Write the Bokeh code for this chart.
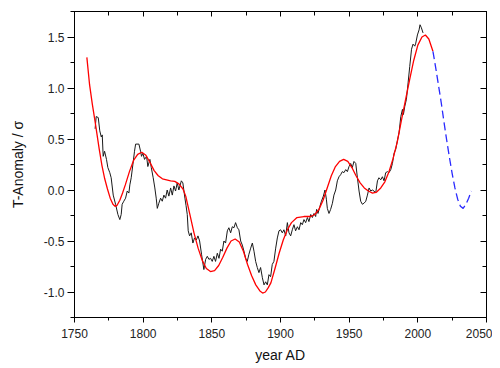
from bokeh.plotting import figure
from bokeh.models import Range1d, LinearAxis, SingleIntervalTicker, NumeralTickFormatter
from bokeh.embed import file_html
from bokeh.resources import INLINE

# ---- data ----
black_years = [1765.0, 1765.8, 1767.3, 1768.4, 1769.5, 1770.2, 1770.9, 1771.9, 1773.3, 1774.3,
               1775.7, 1776.7, 1778.2, 1779.9, 1781.6, 1783.0, 1784.0, 1784.7, 1785.9, 1787.2,
               1788.4, 1789.6, 1790.3, 1791.3, 1792.8, 1793.7, 1794.5, 1796.9, 1798.1, 1798.8,
               1799.8, 1801.0, 1802.5, 1803.4, 1804.9, 1805.9, 1807.3, 1808.5, 1809.5, 1810.3,
               1811.4, 1812.7, 1813.9, 1815.1, 1816.3, 1817.5, 1818.7, 1820.0, 1821.2, 1822.4,
               1823.6, 1824.8, 1826.0, 1827.8, 1828.9, 1830.4, 1831.2, 1832.1, 1832.8, 1833.8,
               1835.0, 1836.2, 1837.4, 1838.7, 1839.9, 1841.1, 1842.5, 1844.2, 1845.5, 1846.7,
               1847.9, 1849.1, 1850.3, 1851.5, 1852.7, 1854.0, 1855.2, 1856.4, 1857.6, 1858.8,
               1860.0, 1861.3, 1862.4, 1863.7, 1864.9, 1866.1, 1867.3, 1868.6, 1869.7, 1871.0,
               1872.2, 1873.4, 1874.6, 1875.8, 1877.0, 1878.3, 1879.5, 1880.7, 1881.9, 1883.1,
               1884.3, 1885.5, 1886.8, 1888.0, 1889.2, 1890.4, 1891.6, 1892.8, 1894.0, 1895.2,
               1896.5, 1897.7, 1898.9, 1900.1, 1901.3, 1902.5, 1903.8, 1905.0, 1906.2, 1907.4,
               1908.6, 1909.8, 1911.0, 1912.3, 1913.5, 1914.7, 1915.9, 1917.1, 1918.3, 1919.6,
               1920.7, 1922.0, 1923.2, 1924.4, 1925.6, 1926.3, 1927.3, 1928.7, 1929.8, 1931.2,
               1932.4, 1933.4, 1934.1, 1935.3, 1936.5, 1937.8, 1938.9, 1940.2, 1941.4, 1942.6,
               1943.8, 1945.0, 1946.2, 1947.5, 1948.7, 1949.9, 1951.1, 1952.3, 1953.5, 1954.8,
               1956.0, 1957.2, 1958.4, 1959.6, 1960.8, 1962.1, 1963.3, 1964.5, 1965.7, 1966.9,
               1968.1, 1969.3, 1970.6, 1971.7, 1973.0, 1974.2, 1975.4, 1976.6, 1977.9, 1979.0,
               1980.3, 1981.5, 1982.7, 1983.9, 1985.2, 1986.3, 1987.6, 1988.8, 1989.5, 1990.5,
               1991.7, 1992.9, 1994.1, 1995.4, 1996.5, 1997.8, 1998.5, 1999.7, 2000.9, 2001.6,
               2002.6, 2003.8]
black_vals = [0.60, 0.72, 0.71, 0.58, 0.52, 0.54, 0.33, 0.38, 0.30, 0.22,
              0.17, 0.12, -0.05, -0.14, -0.24, -0.29, -0.24, -0.14, -0.11, -0.08,
              -0.01, -0.03, 0.05, 0.12, 0.28, 0.38, 0.45, 0.45, 0.38, 0.33,
              0.36, 0.30, 0.33, 0.23, 0.30, 0.22, 0.12, 0.02, -0.08, -0.18,
              -0.13, -0.08, -0.11, -0.05, -0.08, 0.00, -0.06, 0.02, -0.05, 0.04,
              -0.01, 0.07, 0.00, 0.09, 0.07, -0.08, -0.15, -0.24, -0.40, -0.45,
              -0.42, -0.52, -0.47, -0.49, -0.45, -0.50, -0.63, -0.78, -0.68, -0.65,
              -0.68, -0.67, -0.70, -0.65, -0.70, -0.62, -0.67, -0.58, -0.60, -0.50,
              -0.52, -0.40, -0.37, -0.42, -0.36, -0.37, -0.32, -0.37, -0.39, -0.50,
              -0.54, -0.60, -0.67, -0.70, -0.63, -0.57, -0.52, -0.60, -0.70, -0.76,
              -0.81, -0.76, -0.86, -0.93, -0.90, -0.93, -0.83, -0.85, -0.73, -0.70,
              -0.57, -0.47, -0.40, -0.39, -0.42, -0.39, -0.45, -0.32, -0.42, -0.45,
              -0.39, -0.34, -0.40, -0.36, -0.39, -0.32, -0.34, -0.29, -0.32, -0.27,
              -0.31, -0.24, -0.27, -0.23, -0.26, -0.19, -0.23, -0.16, -0.11, -0.06,
              0.00, -0.09, -0.18, -0.23, -0.19, -0.13, -0.05, 0.00, 0.09, 0.13,
              0.15, 0.18, 0.17, 0.20, 0.18, 0.23, 0.26, 0.22, 0.28, 0.26,
              0.12, -0.01, -0.11, -0.14, -0.13, -0.11, -0.05, 0.02, -0.01, 0.00,
              -0.01, -0.03, 0.09, 0.12, 0.10, 0.13, 0.09, 0.17, 0.18, 0.17,
              0.20, 0.26, 0.36, 0.40, 0.49, 0.56, 0.72, 0.79, 0.74, 0.82,
              0.89, 1.05, 1.21, 1.38, 1.43, 1.41, 1.44, 1.52, 1.57, 1.62,
              1.59, 1.54]

fit_years = [1759, 1761, 1763, 1765, 1768, 1770, 1772, 1774, 1776, 1778, 1779.5, 1781, 1783,
             1785, 1787, 1790, 1793, 1796, 1799, 1802, 1805, 1808, 1811, 1814, 1817, 1820,
             1823, 1826, 1829, 1831, 1834, 1837, 1840, 1843, 1846, 1849, 1852, 1855, 1858,
             1861, 1864, 1867, 1870, 1873, 1876, 1879, 1882, 1885, 1887, 1889, 1891, 1893,
             1896, 1899, 1902, 1905, 1908, 1912, 1917, 1922, 1925, 1928, 1931, 1934, 1937,
             1940, 1943, 1946, 1949, 1952, 1955, 1958, 1961, 1964, 1967, 1970, 1973, 1976,
             1979, 1982, 1985, 1988, 1991, 1994, 1997, 2000, 2003, 2005.5, 2008, 2011]
fit_vals = [1.30, 1.03, 0.84, 0.67, 0.40, 0.24, 0.11, 0.01, -0.08, -0.14, -0.16, -0.15, -0.10,
            -0.03, 0.05, 0.18, 0.29, 0.35, 0.37, 0.34, 0.27, 0.19, 0.14, 0.11, 0.10, 0.09,
            0.085, 0.06, 0.01, -0.06, -0.24, -0.42, -0.57, -0.69, -0.77, -0.80, -0.79, -0.74, -0.66,
            -0.57, -0.50, -0.48, -0.51, -0.60, -0.73, -0.84, -0.93, -0.99, -1.01, -1.00, -0.96, -0.91,
            -0.77, -0.62, -0.49, -0.39, -0.32, -0.27, -0.26, -0.26, -0.24, -0.19, -0.10, 0.02, 0.14,
            0.23, 0.28, 0.30, 0.28, 0.22, 0.14, 0.07, 0.02, -0.01, -0.03, -0.02, 0.02, 0.08,
            0.18, 0.31, 0.47, 0.68, 0.88, 1.08, 1.27, 1.42, 1.50, 1.52, 1.48, 1.36]

proj_years = [2011, 2013, 2015, 2017, 2019, 2021, 2023, 2025, 2027, 2029, 2031, 2033, 2035, 2037, 2039]
proj_vals = [1.36, 1.20, 1.03, 0.86, 0.67, 0.49, 0.32, 0.16, 0.02, -0.09, -0.16, -0.18, -0.14, -0.08, -0.01]

FONT = "Liberation Sans"

p = figure(width=492, height=366, output_backend="svg", toolbar_location=None,
           x_range=Range1d(1750, 2050), y_range=Range1d(-1.25, 1.75),
           min_border_left=74, min_border_right=6, min_border_top=11, min_border_bottom=49,
           x_axis_label="year AD", y_axis_label="T-Anomaly / \u03c3")
p.xgrid.visible = False
p.ygrid.visible = False
p.outline_line_color = "black"
p.background_fill_color = "white"
p.border_fill_color = "white"

p.line(black_years, black_vals, line_color="#1a1a1a", line_width=1)
p.line(fit_years, fit_vals, line_color="#ff0000", line_width=1.3)
p.line(proj_years, proj_vals, line_color="#2a2aff", line_width=1.3, line_dash="8 4")

xa = p.xaxis[0]
xa.ticker = SingleIntervalTicker(interval=50, num_minor_ticks=2)
ya = p.yaxis[0]
ya.ticker = SingleIntervalTicker(interval=0.5, num_minor_ticks=2)
ya.formatter = NumeralTickFormatter(format="0.0")

for ax in (xa, ya):
    ax.axis_line_color = "black"
    ax.major_tick_line_color = "black"
    ax.minor_tick_line_color = "black"
    ax.major_label_text_font = FONT
    ax.major_label_text_color = "#222222"
    ax.axis_label_text_font = FONT
    ax.axis_label_text_font_style = "normal"
    ax.axis_label_text_color = "#111111"
    ax.axis_label_text_font_size = "14px"
    ax.major_tick_in = 0
    ax.minor_tick_in = 0

xa.major_tick_out = 5
xa.minor_tick_out = 3
xa.major_label_text_font_size = "12px"
xa.major_label_standoff = 6
xa.axis_label_standoff = 6

ya.major_tick_out = 7
ya.minor_tick_out = 4
ya.major_label_text_font_size = "12px"
ya.major_label_standoff = 3
ya.axis_label_standoff = 15

# mirrored tick-only axes on top and right (labels not drawn)
top = LinearAxis(ticker=SingleIntervalTicker(interval=50, num_minor_ticks=2),
                 major_label_text_font_size="1px", major_label_text_color=None,
                 major_label_standoff=0,
                 major_tick_in=5, major_tick_out=0, minor_tick_in=4, minor_tick_out=0,
                 axis_line_color="black", major_tick_line_color="black", minor_tick_line_color="black")
right = LinearAxis(ticker=SingleIntervalTicker(interval=0.5, num_minor_ticks=2),
                   major_label_text_font_size="1px", major_label_text_color=None,
                   major_label_standoff=0,
                   major_tick_in=6, major_tick_out=0, minor_tick_in=4, minor_tick_out=0,
                   axis_line_color="black", major_tick_line_color="black", minor_tick_line_color="black")
p.add_layout(top, "above")
p.add_layout(right, "right")

open("out.html", "w").write(file_html(p, INLINE))
